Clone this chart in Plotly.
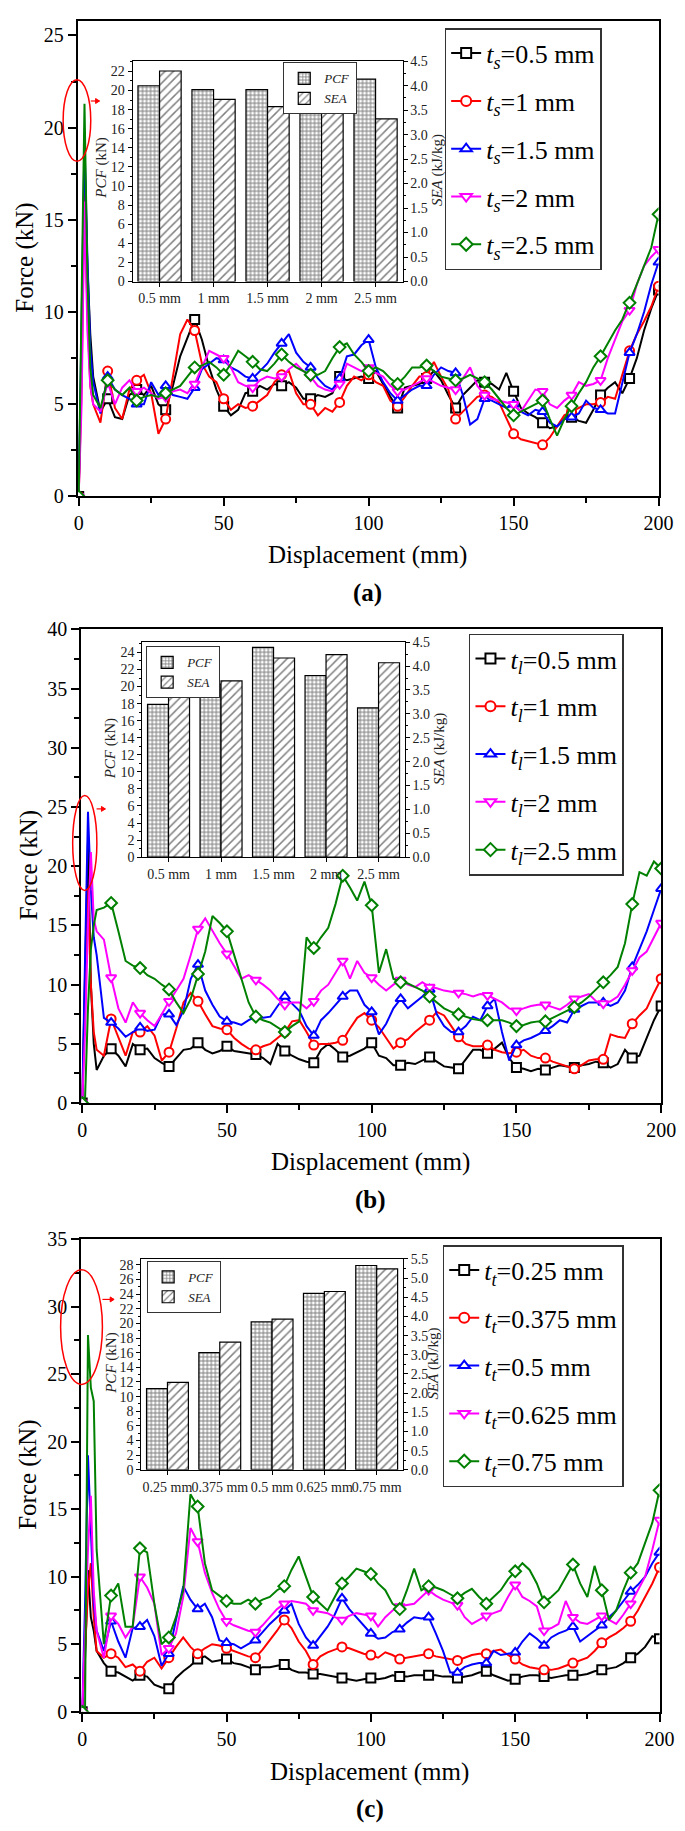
import plotly.graph_objects as go

W, H = 685, 1831
FONT = "Liberation Serif, Times New Roman, Times, serif"

# ---------------- data ----------------
DISP = [0, 1, 2, 3, 4, 5, 7.5,
        10, 12.5, 15, 17.5, 20, 22.5, 25, 27.5,
        30, 32.5, 35, 37.5, 40, 42.5, 45, 47.5,
        50, 52.5, 55, 57.5, 60, 62.5, 65, 67.5,
        70, 72.5, 75, 77.5, 80, 82.5, 85, 87.5,
        90, 92.5, 95, 97.5, 100, 102.5, 105, 107.5,
        110, 112.5, 115, 117.5, 120, 122.5, 125, 127.5,
        130, 132.5, 135, 137.5, 140, 142.5, 145, 147.5,
        150, 152.5, 155, 157.5, 160, 162.5, 165, 167.5,
        170, 172.5, 175, 177.5, 180, 182.5, 185, 187.5,
        190, 192.5, 195, 197.5, 200]

# Panel (a): skin thickness t_s
A_LABELS = ["<i>t</i><sub><i>s</i></sub>=0.5 mm", "<i>t</i><sub><i>s</i></sub>=1 mm",
            "<i>t</i><sub><i>s</i></sub>=1.5 mm", "<i>t</i><sub><i>s</i></sub>=2 mm",
            "<i>t</i><sub><i>s</i></sub>=2.5 mm"]
A_BLACK = [0, 8, 18.5, 12.5, 8.8, 6.5, 4.6,
           5.3, 4.3, 4.2, 5.5, 5.8, 5.5, 6.0, 5.0,
           4.7, 6.0, 7.6, 8.6, 9.6, 8.5, 7.0, 5.8,
           4.9, 4.4, 4.7, 5.6, 5.7, 6.0, 5.8, 6.1,
           6.0, 6.2, 5.9, 5.3, 5.3, 5.5, 5.4, 5.6,
           6.5, 6.3, 6.4, 6.5, 6.4, 6.8, 6.1, 5.4,
           4.8, 5.9, 6.0, 6.1, 6.4, 6.8, 6.3, 5.5,
           4.8, 5.5, 5.9, 6.3, 6.2, 6.1, 5.8, 6.7,
           5.7, 4.8, 4.5, 4.3, 4.0, 3.7, 3.8, 4.2,
           4.3, 4.1, 4.0, 4.7, 5.5, 5.9, 6.2, 5.6,
           6.4, 7.5, 9.0, 10.2, 11.2]
A_RED = [0, 6, 17, 10, 6, 5, 4.0,
         6.8, 4.8, 4.2, 5.8, 6.3, 6.6, 5.6, 3.4,
         4.2, 6.5, 8.8, 9.6, 9.0, 7.2, 6.5, 6.2,
         5.3, 4.7, 5.0, 4.8, 4.9, 5.2, 5.5, 6.2,
         6.6, 6.8, 5.6, 5.0, 5.0, 4.4, 4.8, 4.6,
         5.1, 6.0, 6.5, 6.3, 6.6, 6.2, 6.0, 5.2,
         4.9, 5.4, 6.0, 6.5, 6.5, 7.3, 6.5, 5.8,
         4.2, 4.6, 5.0, 5.4, 5.5, 5.4, 5.1, 4.2,
         3.4, 3.1, 3.0, 2.9, 2.8, 3.2, 3.8, 4.4,
         4.6, 4.8, 5.0, 5.0, 5.1, 5.4, 5.3, 6.6,
         7.9, 8.8, 9.5, 10.3, 11.4]
A_BLUE = [0, 10, 19.2, 13, 8, 6.2, 4.5,
          6.5, 5.8, 5.5, 5.3, 5.0, 5.0, 6.2, 5.5,
          6.0, 5.5, 5.4, 5.3, 5.9, 6.9, 7.2, 7.5,
          7.4, 7.0, 6.8, 6.5, 6.4, 6.8, 7.2, 7.8,
          8.3, 8.8, 7.8, 7.3, 7.0, 6.4, 6.0, 5.8,
          6.4, 7.6, 7.7, 8.2, 8.5, 7.0, 6.2, 5.6,
          5.2, 5.5, 5.8, 6.0, 6.0, 6.6, 7.0, 6.8,
          6.7, 5.5, 3.9, 4.2, 5.3, 5.2, 5.0, 4.8,
          5.0, 4.6, 4.4, 4.7, 4.6, 4.0, 3.8, 4.2,
          4.3, 4.5, 5.2, 4.8, 4.7, 4.5, 4.5, 6.2,
          7.8, 8.8, 10.0, 11.5, 12.7]
A_MAGENTA = [0, 5, 16, 9, 6, 5, 4.6,
             6.2, 5.0, 5.9, 6.3, 5.7, 5.9, 5.6, 5.3,
             5.4, 5.7, 5.8, 5.6, 6.1, 7.0, 7.9, 7.7,
             7.5, 7.0, 6.2, 6.0, 5.9, 6.3, 6.5, 6.4,
             6.5, 6.9, 7.2, 6.8, 6.5, 6.0, 5.8, 5.7,
             6.1, 7.2, 7.0, 6.8, 7.0, 6.7, 6.5, 6.0,
             5.7, 5.8, 6.0, 6.2, 6.4, 6.2, 6.0, 5.9,
             5.8, 6.4, 7.0, 6.0, 5.5, 5.3, 5.2, 5.1,
             5.0, 4.6, 5.2, 5.8, 5.7, 5.0, 4.8, 5.2,
             5.5, 6.2, 6.0, 6.1, 6.3, 7.5, 8.5, 9.5,
             10.1, 11.5, 12.5, 13.0, 13.4]
A_GREEN = [0, 12, 21.3, 12, 7, 5.5, 4.8,
           6.3, 5.8, 5.5, 5.9, 5.2, 5.4, 5.5, 5.4,
           5.6, 5.8, 6.0, 6.5, 7.0, 7.1, 7.3, 7.0,
           6.6, 7.2, 7.9, 7.6, 7.3, 6.9, 6.8, 7.2,
           7.7, 7.3, 7.0, 6.8, 6.6, 6.6, 6.8, 7.5,
           8.1, 8.3, 7.7, 7.3, 6.8, 7.0, 6.8, 6.4,
           6.1, 6.5, 7.0, 7.0, 7.1, 6.8, 6.5, 6.4,
           6.3, 6.4, 6.6, 6.4, 6.2, 5.8, 5.3, 4.8,
           4.4, 4.6, 4.8, 5.0, 5.2, 4.2, 3.3, 4.2,
           4.9, 5.6, 6.2, 7.0, 7.6, 8.3, 9.0, 9.6,
           10.5, 11.5, 12.5, 13.5, 15.3]
A_CATS = ["0.5 mm", "1 mm", "1.5 mm", "2 mm", "2.5 mm"]
A_PCF = [20.5, 20.1, 20.1, 19.5, 21.2]
A_SEA = [4.30, 3.72, 3.57, 3.47, 3.32]

# Panel (b): t_l
B_LABELS = ["<i>t</i><sub><i>l</i></sub>=0.5 mm", "<i>t</i><sub><i>l</i></sub>=1 mm",
            "<i>t</i><sub><i>l</i></sub>=1.5 mm", "<i>t</i><sub><i>l</i></sub>=2 mm",
            "<i>t</i><sub><i>l</i></sub>=2.5 mm"]
B_BLACK = [0, 10, 22, 10, 5, 2.8, 4.0,
           4.6, 4.0, 3.1, 5.0, 4.5, 4.6, 3.8, 3.4,
           3.1, 3.8, 4.5, 4.6, 5.1, 4.5, 4.2, 4.4,
           4.8, 4.4, 4.3, 4.2, 4.1, 3.8, 3.3, 5.0,
           4.4, 4.0, 3.7, 3.5, 3.4, 4.5, 5.0, 4.5,
           3.9, 4.0, 4.3, 4.6, 5.1, 4.0, 3.8, 3.2,
           3.2, 3.4, 3.3, 3.6, 3.9, 3.5, 3.1, 3.0,
           2.9, 3.7, 4.5, 4.5, 4.2, 4.6, 5.1, 3.8,
           3.0, 2.9, 2.7, 2.9, 2.8, 3.0, 3.2, 3.1,
           3.0, 3.2, 3.3, 3.5, 3.4, 3.0, 3.3, 4.5,
           3.8, 4.0, 5.5, 7.0, 8.2]
B_RED = [0, 8, 18, 10, 6, 4.5, 4.0,
         7.1, 5.5, 4.0, 6.0, 6.0, 6.5, 5.7, 3.6,
         4.3, 6.3, 8.5, 9.3, 8.6, 7.5, 6.5, 6.3,
         6.2, 5.5, 5.0, 4.6, 4.5, 4.8, 5.0, 5.5,
         6.0, 6.9, 7.0, 6.0, 4.9, 5.0, 5.0, 5.1,
         5.3, 6.3, 7.2, 7.6, 7.0, 6.4, 5.5, 4.6,
         5.1, 5.4, 6.0, 6.5, 7.0, 7.7, 7.4, 6.5,
         5.6, 5.0, 4.8, 4.8, 4.9, 4.5, 4.3, 4.2,
         4.3, 4.5, 4.0, 3.8, 3.8, 3.5, 3.3, 3.1,
         2.9, 3.2, 3.6, 3.7, 3.7, 5.8, 5.6, 5.5,
         6.7, 7.4, 8.0, 9.3, 10.5]
B_BLUE = [0, 12, 24.6, 18, 14, 12.5, 7.2,
          6.8, 6.3, 5.6, 6.0, 6.4, 6.1, 6.2, 7.5,
          7.5, 6.6, 7.8, 10.5, 11.7, 9.5, 8.3, 7.3,
          6.9, 6.8, 6.6, 7.0, 7.3, 7.2, 7.3, 8.2,
          9.0, 8.4, 7.8, 6.5, 5.7, 7.0, 7.6, 8.3,
          9.0, 9.5, 9.5, 8.3, 7.7, 5.8, 6.7, 8.0,
          8.8, 8.0, 8.5, 9.0, 9.6, 7.5, 6.5, 6.0,
          6.0, 6.5, 7.3, 7.0, 8.2, 8.8, 6.0, 3.6,
          4.9, 5.3, 5.5, 5.8, 6.1, 6.5, 7.0, 6.8,
          7.9, 8.2, 8.5, 8.5, 8.5, 8.2, 8.5, 9.5,
          11.5, 13.0, 14.5, 16.3, 18.1]
B_MAGENTA = [0, 6, 15, 21.2, 15.5, 14.5, 13.8,
             10.6, 8.0, 6.8, 8.5, 7.6, 7.0, 6.5, 7.5,
             8.6, 9.5, 10.5, 12.5, 14.7, 15.6, 14.5, 13.5,
             12.6, 11.5, 10.5, 10.8, 10.4, 10.0, 9.5, 8.8,
             8.3, 8.5, 8.5, 8.0, 8.6, 9.5, 10.0, 11.0,
             12.0, 10.5, 12.0, 11.0, 10.6, 10.0, 9.5, 10.0,
             10.4, 10.0, 9.8, 10.2, 9.8, 9.7, 9.5, 9.4,
             9.3, 9.2, 9.0, 9.2, 9.1, 8.8, 8.5, 8.0,
             7.8, 8.0, 8.2, 8.3, 8.3, 8.1, 7.9, 8.3,
             8.8, 9.0, 9.2, 8.6, 8.4, 8.6, 9.0, 10.0,
             11.2, 12.3, 12.8, 14.0, 15.2]
B_GREEN = [0, 0.5, 8, 13, 15, 16.3, 16.5,
           16.9, 14.5, 12.0, 11.6, 11.4, 10.8, 10.5, 10.0,
           9.6, 8.5, 7.6, 8.8, 10.9, 12.8, 15.8, 15.2,
           14.5, 12.5, 10.5, 8.5, 7.3, 7.0, 6.8, 6.4,
           6.0, 6.5, 6.9, 14.0, 13.1, 14.0, 14.8, 16.8,
           19.2, 18.2, 17.1, 18.7, 16.7, 11.0, 13.0, 10.5,
           10.2, 10.1, 9.8, 9.5, 9.0, 8.5, 8.0, 7.7,
           7.5, 7.3, 7.1, 7.0, 7.0, 7.0, 7.0, 6.8,
           6.5, 6.6, 6.8, 6.9, 6.9, 7.2, 7.5, 7.8,
           8.1, 8.5, 9.0, 9.6, 10.2, 10.8, 11.5, 13.5,
           16.8, 19.5, 19.2, 20.4, 19.8]
B_CATS = ["0.5 mm", "1 mm", "1.5 mm", "2 mm", "2.5 mm"]
B_PCF = [17.9, 20.3, 24.6, 21.3, 17.5]
B_SEA = [3.54, 3.69, 4.17, 4.24, 4.07]

# Panel (c): t_t
C_LABELS = ["<i>t</i><sub><i>t</i></sub>=0.25 mm", "<i>t</i><sub><i>t</i></sub>=0.375 mm",
            "<i>t</i><sub><i>t</i></sub>=0.5 mm", "<i>t</i><sub><i>t</i></sub>=0.625 mm",
            "<i>t</i><sub><i>t</i></sub>=0.75 mm"]
C_BLACK = [0, 4, 10.5, 7, 6.0, 4.5, 3.6,
           3.0, 2.9, 2.6, 2.3, 2.7, 2.6, 2.0, 1.8,
           1.7, 2.5, 3.0, 3.4, 3.9, 4.1, 3.7, 3.8,
           3.9, 3.6, 3.5, 3.3, 3.1, 3.3, 3.3, 3.4,
           3.5, 3.1, 2.9, 2.9, 2.8, 2.8, 2.7, 2.6,
           2.5, 2.4, 2.3, 2.4, 2.5, 2.4, 2.5, 2.7,
           2.6, 2.6, 2.7, 2.7, 2.7, 2.7, 2.6, 2.6,
           2.5, 2.6, 2.7, 2.9, 3.0, 2.7, 2.5, 2.3,
           2.4, 2.6, 2.7, 2.7, 2.6, 2.5, 2.6, 2.7,
           2.7, 2.7, 2.8, 3.0, 3.1, 3.2, 3.3, 3.6,
           4.0, 4.3, 4.8, 5.6, 5.4]
C_RED = [0, 4, 9, 11, 7, 4.5, 4.0,
         4.3, 4.0, 3.3, 3.5, 3.0, 3.7, 4.0, 3.2,
         4.0, 4.8, 5.5, 4.8, 4.3, 4.7, 5.0, 4.9,
         4.7, 4.5, 4.3, 4.1, 4.0, 4.6, 5.3, 6.0,
         6.8, 6.2, 5.2, 4.5, 3.5, 4.1, 4.4, 4.6,
         4.8, 4.7, 4.5, 4.3, 4.2, 4.0, 4.4, 4.2,
         3.9, 4.0, 4.1, 4.2, 4.3, 4.1, 4.0, 3.9,
         3.8, 4.0, 4.2, 4.3, 4.3, 4.5, 4.6, 4.2,
         3.9, 3.5, 3.3, 3.2, 3.1, 3.1, 3.2, 3.4,
         3.6, 3.8, 4.0, 4.5, 5.1, 5.5, 5.8, 6.2,
         6.7, 7.5, 8.5, 9.5, 10.7]
C_BLUE = [0, 8, 19, 14, 8, 6, 4.5,
          6.7, 5.2, 4.0, 6.2, 6.3, 6.8, 5.6, 3.4,
          4.3, 6.8, 9.3, 8.3, 7.6, 8.0, 7.0, 5.3,
          5.1, 5.0, 4.7, 5.0, 5.3, 5.9, 6.5, 7.0,
          7.5, 8.0, 6.5, 5.5, 4.9, 5.6, 6.3, 7.2,
          8.4, 7.6, 7.0, 6.4, 5.8, 5.4, 5.5, 5.9,
          6.1, 6.6, 7.0, 6.9, 7.0, 5.8, 4.5, 2.9,
          2.9, 3.3, 3.5, 3.6, 3.6, 4.5, 4.2, 4.3,
          4.4, 5.2, 5.8, 5.4, 4.9, 5.5, 5.8, 6.0,
          6.3, 5.2, 5.6, 6.0, 6.4, 7.0, 7.5, 8.2,
          8.9, 9.4, 10.0, 11.0, 11.8]
C_MAGENTA = [0, 6, 12, 16, 9, 6, 4.0,
             7.1, 6.5, 5.5, 6.3, 10.0, 9.2, 8.0, 4.2,
             4.7, 5.8, 8.5, 13.6, 12.6, 10.3, 8.8, 7.6,
             6.7, 6.4, 6.2, 6.0, 5.9, 6.4, 7.0, 7.6,
             8.0, 8.2, 8.1, 8.0, 7.5, 7.4, 7.3, 7.0,
             6.8, 7.1, 7.3, 7.2, 7.1, 6.3, 7.0, 7.5,
             7.8, 7.9, 8.0, 8.5, 9.0, 8.6, 8.3, 8.1,
             7.9, 7.0, 6.5, 6.8, 7.1, 7.3, 7.5, 8.5,
             9.4, 8.5, 8.2, 7.8, 6.0, 6.2, 6.5, 8.2,
             7.0, 6.6, 6.5, 6.8, 7.1, 6.8, 6.5, 7.2,
             8.0, 9.0, 10.0, 12.0, 14.2]
C_GREEN = [0, 0.3, 27.9, 24, 23, 12, 5.0,
           8.6, 9.5, 6.3, 6.3, 12.1, 11.8, 8.0, 5.0,
           5.5, 7.0, 9.0, 16.1, 15.2, 11.0, 9.0, 8.6,
           8.2, 8.0, 8.0, 8.3, 8.0, 8.3, 8.5, 9.0,
           9.3, 10.5, 11.5, 10.0, 8.5, 8.0, 7.5, 8.5,
           9.5, 10.0, 10.6, 10.4, 10.2, 9.5, 9.0, 8.0,
           7.6, 9.0, 10.6, 9.0, 9.3, 9.2, 9.0, 8.7,
           8.4, 8.8, 9.1, 8.5, 8.0, 8.5, 9.0, 9.8,
           10.4, 11.0, 10.5, 9.5, 8.1, 8.5, 9.0, 10.0,
           10.9, 9.5, 8.5, 10.8, 9.0, 6.8, 7.5, 9.0,
           10.3, 11.0, 12.5, 14.0, 16.4]
C_CATS = ["0.25 mm", "0.375 mm", "0.5 mm", "0.625 mm", "0.75 mm"]
C_PCF = [11.1, 16.0, 20.2, 24.1, 27.9]
C_SEA = [2.28, 3.33, 3.93, 4.65, 5.24]

# ---------------- styling / layout ----------------
COLORS = ["#000000", "#ff0000", "#0000ff", "#ff00ff", "#008000"]
SYMBOLS = ["square", "circle", "triangle-up", "triangle-down", "diamond"]


def fx(px):
    return px / W


def fy(py):
    return 1 - py / H


def axkey(letter, n):
    return f"{letter}axis" + ("" if n == 1 else str(n))


def axref(letter, n):
    return letter + ("" if n == 1 else str(n))


PANELS = [
    dict(series=[A_BLACK, A_RED, A_BLUE, A_MAGENTA, A_GREEN], labels=A_LABELS,
         cats=A_CATS, pcf=A_PCF, sea=A_SEA, tag="(a)",
         mx=1, my=1, ix=2, iyp=2, iys=3, leg="legend", ileg="legend4",
         main_x=(67.7, 665), main_y=(1.7, 483.3), yrange=[0, 25.8],
         inset_x=(124, 401.7), inset_y=(42.7, 265.7), pcf_range=[0, 23.07], sea_range=[0, 4.5],
         legend_pos=(445, 9.3), ilegend_pos=(279, 44),
         force_title=(13, 242), disp_title=(366, 543), tag_pos=(366, 581),
         pcf_title=(92, 151), sea_title=(437, 153),
         ellipse=(52.6, 61.4, 81, 144), arrow=(81, 90, 83)),
    dict(series=[B_BLACK, B_RED, B_BLUE, B_MAGENTA, B_GREEN], labels=B_LABELS,
         cats=B_CATS, pcf=B_PCF, sea=B_SEA, tag="(b)",
         mx=3, my=4, ix=4, iyp=5, iys=6, leg="legend2", ileg="legend5",
         main_x=(71.3, 667.7), main_y=(617.7, 1097.3), yrange=[0, 40],
         inset_x=(134, 404), inset_y=(630.8, 848.3), pcf_range=[0, 25.2], sea_range=[0, 4.5],
         legend_pos=(470, 622), ilegend_pos=(138, 635),
         force_title=(17, 857), disp_title=(369, 1157), tag_pos=(369, 1195),
         pcf_title=(101, 739), sea_title=(439, 739),
         ellipse=(62.4, 786, 87.3, 882), arrow=(87, 96, 799.5)),
    dict(series=[C_BLACK, C_RED, C_BLUE, C_MAGENTA, C_GREEN], labels=C_LABELS,
         cats=C_CATS, pcf=C_PCF, sea=C_SEA, tag="(c)",
         mx=5, my=7, ix=6, iyp=8, iys=9, leg="legend3", ileg="legend6",
         main_x=(71.3, 666), main_y=(1235, 1713.3), yrange=[0, 35],
         inset_x=(133, 402), inset_y=(1255, 1468.5), pcf_range=[0, 28.8], sea_range=[0, 5.5],
         legend_pos=(443, 1241), ilegend_pos=(139, 1257),
         force_title=(17, 1474), disp_title=(368, 1774), tag_pos=(368, 1812),
         pcf_title=(103, 1361), sea_title=(434, 1361),
         ellipse=(50, 1266, 93, 1382), arrow=(93, 105, 1296)),
]

fig = go.Figure()
layout = dict(width=W, height=H, autosize=False, margin=dict(l=0, r=0, t=0, b=0),
              paper_bgcolor="white", plot_bgcolor="white", hovermode=False,
              font=dict(family=FONT, color="black"), showlegend=True)
annotations = []
shapes = []

main_tickfont = dict(family=FONT, size=20, color="black")
inset_tickfont = dict(family=FONT, size=14, color="#222222")

for p in PANELS:
    xr, yr = axref("x", p["mx"]), axref("y", p["my"])
    # ---- lines ----
    for k, (vals, lab) in enumerate(zip(p["series"], p["labels"])):
        col, sym = COLORS[k], SYMBOLS[k]
        fig.add_trace(go.Scatter(x=DISP, y=vals, mode="lines", xaxis=xr, yaxis=yr,
                                 line=dict(color=col, width=2), showlegend=False))
        mxs = [x for x in DISP if x % 10 == 0]
        mys = [v for x, v in zip(DISP, vals) if x % 10 == 0]
        mk = dict(symbol=sym, size=9, color="white", line=dict(color=col, width=2))
        fig.add_trace(go.Scatter(x=mxs, y=mys, mode="markers", xaxis=xr, yaxis=yr,
                                 marker=mk, showlegend=False))
        fig.add_trace(go.Scatter(x=[None], y=[None], mode="lines+markers", xaxis=xr, yaxis=yr,
                                 name=lab, line=dict(color=col, width=2),
                                 marker=dict(symbol=sym, size=10, color="white",
                                             line=dict(color=col, width=2)),
                                 legend=p["leg"], legendgroup=f"{p['leg']}_{k}"))
    # ---- inset bars ----
    ixr, iypr, iysr = axref("x", p["ix"]), axref("y", p["iyp"]), axref("y", p["iys"])
    pos = list(range(len(p["cats"])))
    fig.add_trace(go.Bar(x=pos, y=p["pcf"], width=0.4, offset=-0.4, xaxis=ixr, yaxis=iypr,
                         name="<i>PCF</i>", legend=p["ileg"], legendgroup=p["ileg"] + "p",
                         marker=dict(color="white", line=dict(color="black", width=1.2),
                                     pattern=dict(shape="+", size=4, solidity=0.45,
                                                  fgcolor="black", bgcolor="white"))))
    fig.add_trace(go.Bar(x=pos, y=p["sea"], width=0.4, offset=0.0, xaxis=ixr, yaxis=iysr,
                         name="<i>SEA</i>", legend=p["ileg"], legendgroup=p["ileg"] + "s",
                         marker=dict(color="white", line=dict(color="black", width=1.2),
                                     pattern=dict(shape="/", size=6, solidity=0.25,
                                                  fgcolor="black", bgcolor="white"))))

    # ---- main axes ----
    layout[axkey("x", p["mx"])] = dict(
        domain=[fx(p["main_x"][0]), fx(p["main_x"][1])], anchor=yr, range=[-0.3, 200],
        tick0=0, dtick=50, showline=True, linecolor="black", linewidth=2, mirror=True,
        ticks="outside", ticklen=8, tickwidth=2, tickcolor="black", tickfont=main_tickfont,
        showgrid=False, zeroline=False,
        minor=dict(dtick=25, tick0=0, ticks="outside", ticklen=5, tickwidth=2,
                   tickcolor="black", showgrid=False))
    layout[axkey("y", p["my"])] = dict(
        domain=[fy(p["main_y"][1]), fy(p["main_y"][0])], anchor=xr, range=p["yrange"],
        tick0=0, dtick=5, showline=True, linecolor="black", linewidth=2, mirror=True,
        ticks="outside", ticklen=8, tickwidth=2, tickcolor="black", tickfont=main_tickfont,
        showgrid=False, zeroline=False,
        minor=dict(dtick=2.5, tick0=0, ticks="outside", ticklen=5, tickwidth=2,
                   tickcolor="black", showgrid=False))
    # ---- inset axes ----
    idom_x = [fx(p["inset_x"][0]), fx(p["inset_x"][1])]
    idom_y = [fy(p["inset_y"][1]), fy(p["inset_y"][0])]
    layout[axkey("x", p["ix"])] = dict(
        domain=idom_x, anchor=iypr, range=[-0.5, len(pos) - 0.5],
        tickvals=pos, ticktext=p["cats"], tickangle=0, showline=True, linecolor="black",
        linewidth=1, mirror=True, ticks="outside", ticklen=4, tickwidth=1, tickcolor="black",
        tickfont=inset_tickfont, showgrid=False, zeroline=False)
    layout[axkey("y", p["iyp"])] = dict(
        domain=idom_y, anchor=ixr, range=p["pcf_range"], tick0=0, dtick=2,
        showline=True, linecolor="black", linewidth=1, ticks="outside", ticklen=4,
        tickwidth=1, tickcolor="black", tickfont=inset_tickfont, showgrid=False,
        zeroline=False,
        minor=dict(dtick=1, tick0=0, ticks="outside", ticklen=2, tickwidth=1,
                   tickcolor="black", showgrid=False))
    layout[axkey("y", p["iys"])] = dict(
        domain=idom_y, anchor=ixr, overlaying=iypr, side="right", range=p["sea_range"],
        tick0=0, dtick=0.5, tickformat=".1f", showline=True, linecolor="black", linewidth=1,
        ticks="outside", ticklen=4, tickwidth=1, tickcolor="black", tickfont=inset_tickfont,
        showgrid=False, zeroline=False,
        minor=dict(dtick=0.25, tick0=0, ticks="outside", ticklen=2, tickwidth=1,
                   tickcolor="black", showgrid=False))
    # ---- legends ----
    lx, ly = p["legend_pos"]
    layout[p["leg"]] = dict(x=fx(lx), y=fy(ly), xanchor="left", yanchor="top",
                            bgcolor="white", bordercolor="#333333", borderwidth=1.5,
                            font=dict(family=FONT, size=26, color="black"),
                            tracegroupgap=11, traceorder="grouped")
    ilx, ily = p["ilegend_pos"]
    layout[p["ileg"]] = dict(x=fx(ilx), y=fy(ily), xanchor="left", yanchor="top",
                             bgcolor="white", bordercolor="#333333", borderwidth=1,
                             font=dict(family=FONT, size=13, color="#222222"),
                             tracegroupgap=0, traceorder="grouped")
    # ---- text ----
    fxp, fyp = p["force_title"]
    annotations.append(dict(x=fx(fxp), y=fy(fyp), xref="paper", yref="paper",
                            text="Force (kN)", textangle=-90, showarrow=False,
                            font=dict(family=FONT, size=25, color="black"),
                            xanchor="center", yanchor="middle"))
    dxp, dyp = p["disp_title"]
    annotations.append(dict(x=fx(dxp), y=fy(dyp), xref="paper", yref="paper",
                            text="Displacement (mm)", showarrow=False,
                            font=dict(family=FONT, size=25, color="black"),
                            xanchor="center", yanchor="middle"))
    txp, typ = p["tag_pos"]
    annotations.append(dict(x=fx(txp), y=fy(typ), xref="paper", yref="paper",
                            text=f"<b>{p['tag']}</b>", showarrow=False,
                            font=dict(family=FONT, size=25, color="black"),
                            xanchor="center", yanchor="middle"))
    pxp, pyp = p["pcf_title"]
    annotations.append(dict(x=fx(pxp), y=fy(pyp), xref="paper", yref="paper",
                            text="<i>PCF</i> (kN)", textangle=-90, showarrow=False,
                            font=dict(family=FONT, size=15, color="#222222"),
                            xanchor="center", yanchor="middle"))
    sxp, syp = p["sea_title"]
    annotations.append(dict(x=fx(sxp), y=fy(syp), xref="paper", yref="paper",
                            text="<i>SEA</i> (kJ/kg)", textangle=-90, showarrow=False,
                            font=dict(family=FONT, size=15, color="#222222"),
                            xanchor="center", yanchor="middle"))
    # ---- red highlight ----
    ex0, ey0, ex1, ey1 = p["ellipse"]
    shapes.append(dict(type="circle", xref="paper", yref="paper",
                       x0=fx(ex0), x1=fx(ex1), y0=fy(ey1), y1=fy(ey0),
                       line=dict(color="red", width=1.5)))
    a0, a1, ay = p["arrow"]
    shapes.append(dict(type="line", xref="paper", yref="paper",
                       x0=fx(a0), x1=fx(a1), y0=fy(ay), y1=fy(ay),
                       line=dict(color="red", width=1.2)))
    shapes.append(dict(type="path", xref="paper", yref="paper",
                       path=(f"M {fx(a1)},{fy(ay)} L {fx(a1 - 4)},{fy(ay - 2.5)} "
                             f"L {fx(a1 - 4)},{fy(ay + 2.5)} Z"),
                       fillcolor="red", line=dict(color="red", width=1)))

layout["annotations"] = annotations
layout["shapes"] = shapes
fig.update_layout(**layout)
fig.write_html("out.html")
